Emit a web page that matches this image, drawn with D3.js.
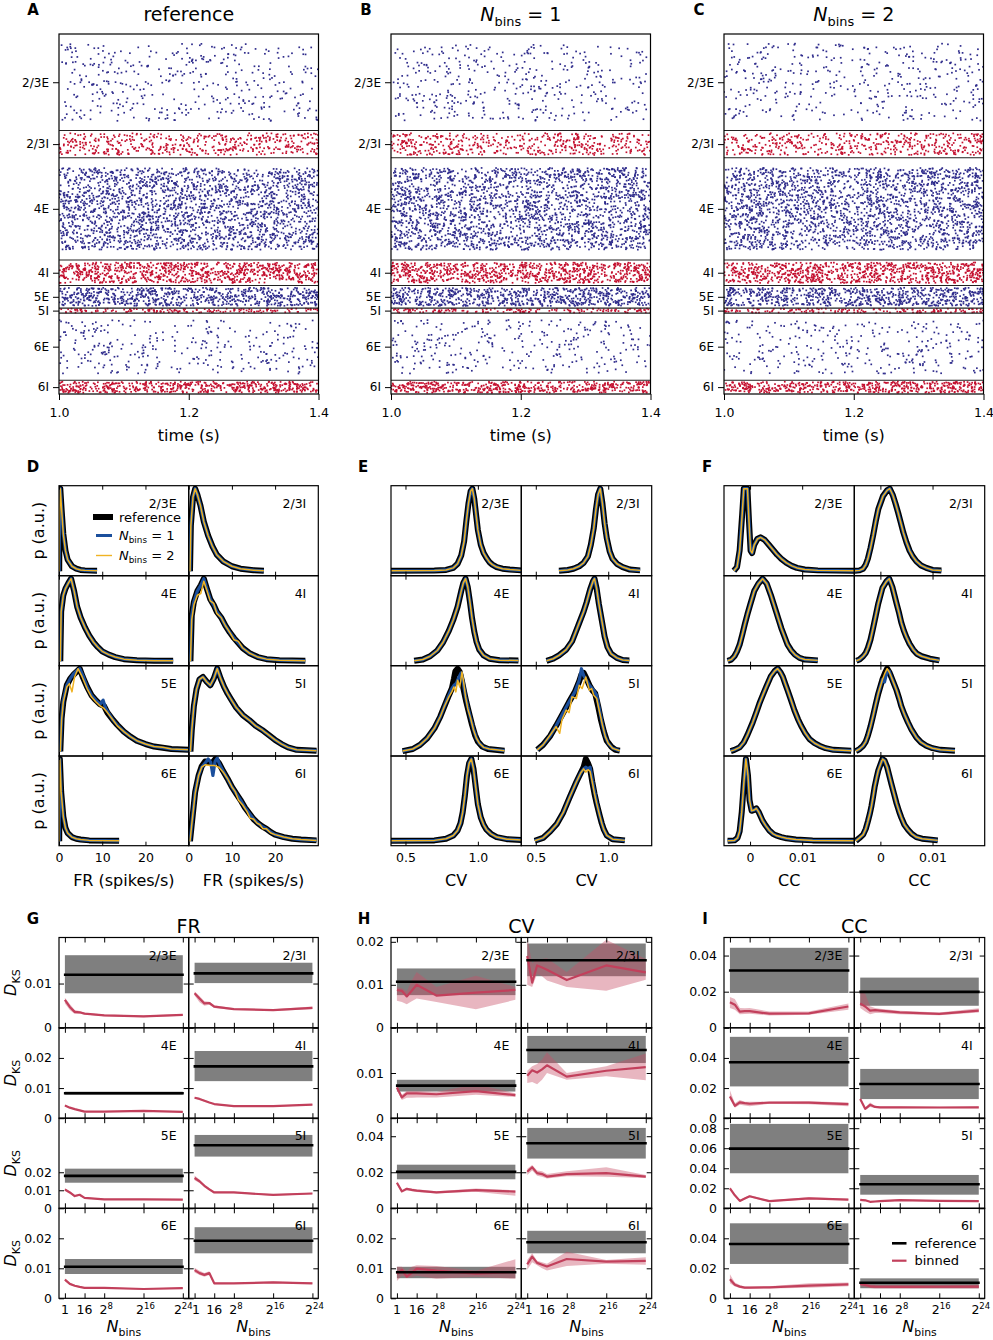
<!DOCTYPE html>
<html>
<head>
<meta charset="utf-8">
<script src="https://cdn.jsdelivr.net/npm/d3@7"></script>
<style>
  body { margin: 0; background: #fff; }
</style>
</head>
<body>
<div id="fig"></div>
<script>
// ---------- data ----------
const populations = ['2/3E', '2/3I', '4E', '4I', '5E', '5I', '6E', '6I'];
const popSizes = [20683, 5834, 21915, 5479, 4850, 1065, 14395, 2948];
// approximate number of spike dots visible per population in one raster panel
const spikeCounts = [400, 470, 2200, 830, 700, 150, 290, 500];
const timeTicks = [1.0, 1.2, 1.4];

// firing-rate histograms (x = spikes/s, y = p normalised to peak)
const frRef = [
  [[0.05,0],[0.1,0.6],[0.3,1],[0.6,0.75],[1,0.45],[1.5,0.25],[2,0.14],[3,0.06],[4,0.03],[5,0.015],[6,0.01],[8.8,0.005]],
  [[0.3,0],[0.5,0.55],[1,0.9],[1.5,1],[2,0.93],[2.7,0.8],[3.5,0.6],[4.5,0.43],[5.5,0.3],[6.5,0.2],[8,0.12],[10,0.06],[12,0.03],[15,0.012],[17.4,0.005]],
  [[0.3,0],[0.5,0.6],[1,0.8],[1.5,0.88],[2.2,0.95],[2.8,1],[3.5,0.85],[4.2,0.66],[5,0.53],[6,0.41],[7,0.31],[8,0.23],[9,0.17],[10,0.12],[11.5,0.08],[13,0.05],[15,0.025],[18,0.012],[22,0.006],[26.4,0.004]],
  [[0.4,0],[0.7,0.55],[1.2,0.72],[2,0.85],[2.8,0.92],[3.5,1],[4.2,0.88],[5,0.75],[5.8,0.68],[6.5,0.6],[7.5,0.53],[8.5,0.43],[9.5,0.35],[10.5,0.28],[11.5,0.22],[12.5,0.16],[14,0.1],[16,0.05],[18,0.025],[21,0.012],[27,0.005]],
  [[0.3,0],[0.6,0.4],[1,0.6],[1.8,0.8],[2.6,0.88],[3.4,0.93],[4.2,0.97],[4.8,1],[5.5,0.9],[6.5,0.78],[7.5,0.68],[8.5,0.62],[9.5,0.57],[10.4,0.55],[11.2,0.47],[12.5,0.38],[13.5,0.32],[15,0.24],[16.5,0.18],[18,0.13],[20,0.09],[22,0.06],[24,0.045],[26,0.03],[30,0.02]],
  [[0.4,0],[0.7,0.25],[1.2,0.55],[1.8,0.75],[2.5,0.87],[3.3,0.9],[4.2,0.84],[5,0.8],[5.8,0.88],[6.6,1],[7.4,0.88],[8.2,0.78],[9,0.7],[9.8,0.63],[11,0.53],[12.5,0.44],[14,0.38],[15.5,0.31],[17,0.26],[18.5,0.2],[20,0.14],[21.5,0.09],[23,0.05],[25,0.02],[29.6,0.01]],
  [[0.05,0],[0.1,0.7],[0.2,1],[0.5,0.6],[1,0.3],[1.5,0.16],[2,0.1],[3,0.05],[4,0.03],[5,0.02],[7,0.01],[13.9,0.005]],
  [[0.3,0],[0.7,0.2],[1.5,0.6],[2.3,0.8],[3,0.91],[3.8,0.97],[4.6,0.96],[5.4,0.95],[6.2,1],[7,0.95],[8,0.85],[9,0.76],[10,0.66],[11,0.58],[12,0.5],[13,0.41],[14,0.34],[15,0.27],[16,0.22],[17,0.18],[18,0.15],[19,0.11],[20,0.08],[22,0.05],[24,0.03],[26,0.02],[29.6,0.01]]
];
const fr4INb2 = [[0.4,0],[0.7,0.5],[1.2,0.68],[2,0.8],[2.8,0.82],[3.5,0.97],[4.2,0.86],[5,0.73],[5.8,0.7],[6.5,0.58],[7.5,0.53],[8.5,0.43],[9.5,0.35],[10.5,0.26],[11.5,0.24],[12.5,0.16],[14,0.1],[16,0.05],[18,0.025],[21,0.012],[27,0.005]];
const fr5ENb1 = [[0.3,0],[0.6,0.4],[1,0.62],[1.8,0.8],[2.6,0.88],[3.4,0.94],[4.2,0.98],[4.8,1],[5.5,0.92],[6.5,0.78],[7.5,0.68],[8.5,0.62],[9.5,0.57],[10.2,0.62],[10.8,0.52],[11.5,0.46],[12.5,0.38],[13.5,0.32],[15,0.24],[16.5,0.18],[18,0.13],[20,0.09],[22,0.06],[24,0.045],[26,0.03],[30,0.02]];
const fr5ENb2 = [[0.3,0],[0.6,0.38],[1,0.6],[1.8,0.78],[2.4,0.82],[3,0.72],[3.6,0.9],[4.4,1],[5.2,0.92],[6.5,0.76],[7.5,0.66],[8.5,0.6],[9.5,0.55],[10.4,0.52],[11.2,0.47],[12.5,0.38],[13.5,0.31],[15,0.24],[16.5,0.18],[18,0.13],[20,0.09],[22,0.06],[24,0.05],[26,0.03],[30,0.02]];
const fr6INb1 = [[0.3,0],[0.7,0.2],[1.5,0.6],[2.3,0.8],[3,0.9],[3.8,0.95],[4.5,1],[5.1,0.96],[5.6,0.8],[6.1,0.97],[6.6,1.01],[7.2,0.93],[8,0.85],[9,0.76],[10,0.66],[11,0.58],[12,0.5],[13,0.41],[14,0.34],[15,0.27],[16,0.22],[17,0.18],[18,0.15],[19,0.11],[20,0.08],[22,0.05],[24,0.03],[26,0.02],[29.6,0.01]];
const fr6INb2 = [[0.3,0],[0.7,0.2],[1.5,0.58],[2.3,0.8],[3,0.9],[3.8,0.93],[5,0.92],[6,0.92],[7,0.9],[8,0.84],[9,0.76],[10,0.66],[10.8,0.6],[11.5,0.5],[12.5,0.44],[13.5,0.36],[14.2,0.28],[15,0.27],[15.8,0.22],[16.5,0.2],[17.2,0.15],[18,0.15],[19,0.1],[20,0.08],[22,0.05],[24,0.03],[26,0.02],[29.6,0.01]];
const frNb1 = [frRef[0], frRef[1], frRef[2], frRef[3], fr5ENb1, frRef[5], frRef[6], fr6INb1];
const frNb2 = [frRef[0], frRef[1], frRef[2], fr4INb2, fr5ENb2, frRef[5], frRef[6], fr6INb2];

// CV histograms
const cvRef = [
  [[0.4,0.005],[0.7,0.008],[0.78,0.015],[0.83,0.04],[0.86,0.09],[0.885,0.19],[0.905,0.36],[0.92,0.6],[0.935,0.82],[0.95,0.97],[0.962,1],[0.975,0.88],[0.99,0.65],[1.0,0.5],[1.02,0.32],[1.04,0.22],[1.06,0.16],[1.08,0.11],[1.1,0.08],[1.13,0.05],[1.17,0.03],[1.22,0.02],[1.3,0.01]],
  [[0.66,0.005],[0.72,0.015],[0.76,0.03],[0.8,0.06],[0.83,0.1],[0.86,0.18],[0.88,0.32],[0.9,0.52],[0.915,0.75],[0.93,0.93],[0.945,1],[0.96,0.82],[0.975,0.58],[0.99,0.4],[1.01,0.24],[1.03,0.15],[1.06,0.09],[1.1,0.05],[1.15,0.02],[1.22,0.01]],
  [[0.56,0.005],[0.62,0.02],[0.67,0.06],[0.72,0.13],[0.76,0.23],[0.8,0.37],[0.83,0.5],[0.86,0.66],[0.885,0.85],[0.9,0.95],[0.915,1],[0.93,0.9],[0.945,0.72],[0.96,0.52],[0.975,0.36],[0.99,0.24],[1.01,0.14],[1.04,0.07],[1.08,0.03],[1.15,0.012],[1.28,0.008]],
  [[0.574,0.005],[0.62,0.03],[0.66,0.07],[0.71,0.14],[0.75,0.24],[0.79,0.42],[0.83,0.6],[0.85,0.71],[0.875,0.87],[0.895,0.97],[0.905,1],[0.92,0.88],[0.935,0.7],[0.955,0.5],[0.975,0.3],[0.995,0.17],[1.02,0.09],[1.06,0.04],[1.1,0.015],[1.145,0.008]],
  [[0.48,0.005],[0.55,0.03],[0.6,0.08],[0.65,0.16],[0.7,0.28],[0.74,0.42],[0.77,0.55],[0.8,0.68],[0.82,0.76],[0.835,0.88],[0.845,0.97],[0.86,1],[0.875,0.96],[0.89,0.85],[0.905,0.72],[0.92,0.6],[0.94,0.46],[0.96,0.32],[0.98,0.2],[1.0,0.12],[1.03,0.06],[1.07,0.03],[1.184,0.01]],
  [[0.51,0.02],[0.55,0.08],[0.6,0.19],[0.64,0.31],[0.69,0.47],[0.73,0.6],[0.77,0.72],[0.8,0.85],[0.815,0.93],[0.83,0.95],[0.85,0.88],[0.87,0.8],[0.89,0.74],[0.91,0.7],[0.93,0.55],[0.95,0.38],[0.97,0.24],[0.99,0.13],[1.02,0.06],[1.05,0.02],[1.08,0.01]],
  [[0.4,0.005],[0.7,0.01],[0.78,0.03],[0.83,0.07],[0.86,0.13],[0.88,0.22],[0.895,0.35],[0.91,0.55],[0.925,0.8],[0.94,0.95],[0.955,1],[0.97,0.88],[0.985,0.66],[1.0,0.45],[1.02,0.29],[1.04,0.2],[1.06,0.14],[1.09,0.09],[1.13,0.05],[1.2,0.025],[1.3,0.015]],
  [[0.493,0.005],[0.55,0.04],[0.6,0.12],[0.645,0.21],[0.69,0.35],[0.735,0.54],[0.78,0.72],[0.81,0.83],[0.83,0.9],[0.845,1],[0.86,0.95],[0.875,0.88],[0.89,0.72],[0.905,0.58],[0.92,0.46],[0.94,0.32],[0.955,0.22],[0.97,0.14],[0.99,0.07],[1.03,0.025],[1.115,0.01]]
];
const cv5ENb1 = [[0.48,0.005],[0.55,0.03],[0.6,0.08],[0.65,0.16],[0.7,0.28],[0.74,0.42],[0.77,0.55],[0.8,0.68],[0.82,0.76],[0.835,0.8],[0.85,0.82],[0.87,0.9],[0.885,0.95],[0.9,0.82],[0.915,0.66],[0.93,0.54],[0.95,0.4],[0.97,0.27],[0.99,0.16],[1.01,0.1],[1.04,0.05],[1.08,0.03],[1.184,0.01]];
const cv5ENb2 = [[0.48,0.005],[0.55,0.03],[0.6,0.08],[0.65,0.16],[0.7,0.28],[0.74,0.42],[0.77,0.55],[0.8,0.66],[0.82,0.72],[0.835,0.78],[0.848,0.72],[0.86,0.86],[0.875,0.78],[0.89,0.96],[0.9,0.86],[0.915,0.66],[0.93,0.52],[0.95,0.4],[0.97,0.26],[0.99,0.16],[1.01,0.1],[1.04,0.05],[1.08,0.03],[1.184,0.01]];
const cv5INb1 = [[0.51,0.02],[0.55,0.08],[0.6,0.19],[0.64,0.31],[0.69,0.47],[0.73,0.6],[0.77,0.72],[0.8,0.86],[0.815,1],[0.83,0.92],[0.85,0.86],[0.87,0.8],[0.9,0.74],[0.92,0.68],[0.94,0.5],[0.96,0.32],[0.98,0.18],[1.0,0.1],[1.03,0.04],[1.06,0.02],[1.08,0.01]];
const cv5INb2 = [[0.51,0.02],[0.55,0.08],[0.6,0.2],[0.64,0.3],[0.665,0.22],[0.68,0.38],[0.71,0.5],[0.73,0.47],[0.75,0.66],[0.78,0.64],[0.8,0.8],[0.82,0.76],[0.845,0.9],[0.87,0.74],[0.885,0.76],[0.9,0.68],[0.92,0.64],[0.94,0.48],[0.96,0.32],[0.98,0.18],[1.0,0.1],[1.03,0.04],[1.06,0.02],[1.08,0.01]];
const cv6INb1 = [[0.493,0.005],[0.55,0.04],[0.6,0.12],[0.645,0.21],[0.69,0.35],[0.735,0.54],[0.78,0.72],[0.81,0.83],[0.83,0.88],[0.845,0.9],[0.86,0.88],[0.875,0.9],[0.89,0.74],[0.905,0.6],[0.92,0.47],[0.94,0.32],[0.955,0.22],[0.97,0.14],[0.99,0.07],[1.03,0.025],[1.115,0.01]];
const cv6INb2 = [[0.493,0.005],[0.55,0.04],[0.6,0.12],[0.645,0.21],[0.69,0.35],[0.735,0.54],[0.78,0.72],[0.81,0.83],[0.83,0.88],[0.845,0.84],[0.86,0.87],[0.875,0.85],[0.89,0.72],[0.905,0.58],[0.92,0.46],[0.94,0.32],[0.955,0.22],[0.97,0.14],[0.99,0.07],[1.03,0.025],[1.115,0.01]];
const cvNb1 = [cvRef[0], cvRef[1], cvRef[2], cvRef[3], cv5ENb1, cv5INb1, cvRef[6], cv6INb1];
const cvNb2 = [cvRef[0], cvRef[1], cvRef[2], cvRef[3], cv5ENb2, cv5INb2, cvRef[6], cv6INb2];

// CC histograms
const ccRef = [
  [[-0.0031,0.005],[-0.0025,0.05],[-0.002,0.25],[-0.0015,0.7],[-0.0012,1],[-0.0005,1],[-0.0002,0.6],[0.0001,0.25],[0.0004,0.22],[0.0008,0.32],[0.0014,0.39],[0.002,0.41],[0.0028,0.38],[0.0036,0.32],[0.0044,0.26],[0.0052,0.2],[0.006,0.15],[0.007,0.1],[0.008,0.065],[0.009,0.04],[0.0105,0.02],[0.013,0.01],[0.02,0.005]],
  [[-0.0049,0.005],[-0.004,0.01],[-0.0033,0.03],[-0.0028,0.08],[-0.0024,0.15],[-0.0019,0.28],[-0.0014,0.43],[-0.0009,0.6],[-0.0004,0.75],[0.0005,0.91],[0.0013,0.98],[0.0018,1],[0.0024,0.92],[0.0029,0.82],[0.0034,0.71],[0.0039,0.59],[0.0044,0.47],[0.005,0.35],[0.0056,0.25],[0.0062,0.18],[0.0069,0.12],[0.0078,0.07],[0.0088,0.04],[0.01,0.015],[0.0117,0.008]],
  [[-0.0043,0.005],[-0.0036,0.02],[-0.003,0.06],[-0.0025,0.12],[-0.002,0.2],[-0.0015,0.32],[-0.001,0.45],[-0.0005,0.57],[0,0.68],[0.0008,0.85],[0.0016,0.94],[0.0024,1],[0.0032,0.94],[0.004,0.8],[0.0045,0.7],[0.005,0.6],[0.0055,0.5],[0.006,0.4],[0.0066,0.3],[0.0072,0.2],[0.0079,0.13],[0.0086,0.08],[0.0095,0.04],[0.0105,0.02],[0.013,0.01]],
  [[-0.0046,0.005],[-0.004,0.02],[-0.0033,0.06],[-0.0028,0.1],[-0.0024,0.16],[-0.0019,0.26],[-0.0014,0.4],[-0.0009,0.55],[-0.0004,0.7],[0.0004,0.89],[0.0012,0.97],[0.0017,1],[0.0023,0.9],[0.0031,0.7],[0.0036,0.58],[0.004,0.47],[0.0045,0.37],[0.005,0.29],[0.0056,0.21],[0.0063,0.14],[0.007,0.09],[0.0079,0.06],[0.0095,0.03],[0.0113,0.01]],
  [[-0.0037,0.005],[-0.003,0.02],[-0.002,0.05],[-0.0012,0.11],[-0.0005,0.2],[0.0005,0.35],[0.0012,0.47],[0.0018,0.58],[0.0025,0.69],[0.0031,0.78],[0.004,0.91],[0.0047,0.97],[0.0053,1],[0.0058,0.96],[0.0063,0.9],[0.0068,0.81],[0.0072,0.74],[0.0078,0.63],[0.0085,0.5],[0.0092,0.39],[0.0098,0.31],[0.0106,0.22],[0.0114,0.15],[0.0124,0.1],[0.0133,0.07],[0.0145,0.04],[0.016,0.02],[0.0194,0.01]],
  [[-0.0047,0.005],[-0.004,0.03],[-0.0033,0.07],[-0.0028,0.12],[-0.0024,0.19],[-0.0019,0.3],[-0.0014,0.43],[-0.0009,0.57],[-0.0004,0.7],[0.0004,0.87],[0.0009,0.95],[0.0013,1],[0.0017,0.96],[0.0021,0.9],[0.0026,0.82],[0.0031,0.74],[0.0036,0.64],[0.004,0.55],[0.0046,0.45],[0.0053,0.35],[0.006,0.26],[0.0069,0.17],[0.0078,0.11],[0.0088,0.07],[0.01,0.04],[0.0115,0.02],[0.0143,0.01]],
  [[-0.0043,0.005],[-0.003,0.01],[-0.0024,0.04],[-0.002,0.12],[-0.0016,0.35],[-0.0012,0.7],[-0.0008,1],[-0.0004,0.8],[-0.0001,0.5],[0.0003,0.37],[0.0008,0.38],[0.0012,0.4],[0.0017,0.35],[0.0024,0.25],[0.003,0.19],[0.0037,0.13],[0.0044,0.09],[0.005,0.07],[0.006,0.05],[0.007,0.035],[0.0088,0.02],[0.012,0.01],[0.02,0.005]],
  [[-0.0047,0.005],[-0.004,0.04],[-0.0033,0.08],[-0.0028,0.15],[-0.0024,0.24],[-0.002,0.34],[-0.0017,0.43],[-0.0014,0.54],[-0.0011,0.66],[-0.0007,0.78],[-0.0004,0.86],[0,0.93],[0.0004,1],[0.0008,0.98],[0.0013,0.9],[0.0017,0.8],[0.0021,0.7],[0.0026,0.58],[0.0031,0.46],[0.0036,0.36],[0.004,0.29],[0.0046,0.2],[0.0053,0.14],[0.006,0.09],[0.0069,0.05],[0.008,0.03],[0.011,0.01]]
];
const cc5INb1 = [[-0.0047,0.005],[-0.004,0.03],[-0.0033,0.07],[-0.0028,0.12],[-0.0024,0.19],[-0.0019,0.3],[-0.0014,0.43],[-0.0009,0.57],[-0.0004,0.7],[0.0004,0.87],[0.0008,0.84],[0.0013,0.98],[0.0017,0.97],[0.0021,0.9],[0.0026,0.82],[0.0031,0.74],[0.0036,0.64],[0.004,0.55],[0.0046,0.45],[0.0053,0.35],[0.006,0.26],[0.0069,0.17],[0.0078,0.11],[0.0088,0.07],[0.01,0.04],[0.0115,0.02],[0.0143,0.01]];
const ccNb1 = [ccRef[0], ccRef[1], ccRef[2], ccRef[3], ccRef[4], cc5INb1, ccRef[6], ccRef[7]];
const ccNb2 = ccRef;

// D_KS vs N_bins (x = log2 N_bins)
const nbinsLog2 = [0, 1, 2, 3, 4, 8, 16, 24];
const nbinsTicks = [0, 4, 8, 16, 24];
const nbinsTickLabels = [['1', ''], ['16', ''], ['2', '8'], ['2', '16'], ['2', '24']];

const frRefMean = [0.0120, 0.0123, 0.0083, 0.0172, 0.0180, 0.0350, 0.0105, 0.0192];
const frRefLo   = [0.0078, 0.0101, 0.0078, 0.0123, 0.0142, 0.0287, 0.0081, 0.0150];
const frRefHi   = [0.0164, 0.0147, 0.0088, 0.0223, 0.0220, 0.0407, 0.0131, 0.0237];
const frBinMean = [
  [0.0063,0.0047,0.0036,0.0035,0.0032,0.0028,0.0026,0.0029],
  [0.0078,0.0066,0.0055,0.0056,0.0048,0.0042,0.0040,0.0045],
  [0.0042,0.0035,0.0030,0.0026,0.0022,0.0022,0.0024,0.0021],
  [0.0068,0.0064,0.0058,0.0052,0.0047,0.0040,0.0040,0.0045],
  [0.0104,0.0088,0.0068,0.0075,0.0058,0.0050,0.0050,0.0048],
  [0.0168,0.0150,0.0125,0.0105,0.0088,0.0088,0.0074,0.0082],
  [0.0062,0.0048,0.0042,0.0038,0.0035,0.0035,0.0031,0.0034],
  [0.0094,0.0084,0.0078,0.0084,0.0050,0.0050,0.0053,0.0050]
];
const frBinLo = [
  [0.0055,0.0040,0.0031,0.0032,0.0030,0.0026,0.0024,0.0027],
  [0.0073,0.0058,0.0050,0.0052,0.0045,0.0040,0.0038,0.0042],
  [0.0039,0.0033,0.0028,0.0024,0.0021,0.0021,0.0023,0.0020],
  [0.0065,0.0061,0.0055,0.0050,0.0045,0.0038,0.0038,0.0043],
  [0.0098,0.0082,0.0062,0.0070,0.0054,0.0047,0.0047,0.0045],
  [0.0155,0.0140,0.0117,0.0099,0.0083,0.0084,0.0070,0.0078],
  [0.0058,0.0045,0.0039,0.0036,0.0033,0.0033,0.0029,0.0032],
  [0.0086,0.0078,0.0072,0.0078,0.0047,0.0048,0.0050,0.0048]
];
const frBinHi = [
  [0.0068,0.0054,0.0040,0.0038,0.0034,0.0030,0.0028,0.0031],
  [0.0082,0.0072,0.0060,0.0059,0.0051,0.0044,0.0042,0.0048],
  [0.0045,0.0037,0.0032,0.0028,0.0024,0.0024,0.0025,0.0023],
  [0.0071,0.0067,0.0061,0.0055,0.0049,0.0042,0.0042,0.0047],
  [0.0110,0.0094,0.0074,0.0080,0.0062,0.0053,0.0053,0.0051],
  [0.0182,0.0160,0.0132,0.0112,0.0093,0.0092,0.0078,0.0086],
  [0.0066,0.0051,0.0045,0.0040,0.0037,0.0037,0.0033,0.0036],
  [0.0102,0.0092,0.0084,0.0090,0.0053,0.0052,0.0056,0.0053]
];

const cvRefMean = [0.0107, 0.0157, 0.0072, 0.0151, 0.0202, 0.0361, 0.0087, 0.0187];
const cvRefLo   = [0.0076, 0.0120, 0.0059, 0.0122, 0.0161, 0.0276, 0.0067, 0.0150];
const cvRefHi   = [0.0138, 0.0196, 0.0085, 0.0182, 0.0242, 0.0446, 0.0105, 0.0225];
const cvBinMean = [
  [0.0088,0.0086,0.0073,0.0086,0.0100,0.0075,0.0082,0.0088],
  [0.0167,0.0105,0.0145,0.0140,0.0135,0.0111,0.0145,0.0129],
  [0.0068,0.0046,0.0055,0.0055,0.0055,0.0053,0.0060,0.0051],
  [0.0094,0.0106,0.0101,0.0108,0.0117,0.0092,0.0105,0.0113],
  [0.0142,0.0094,0.0108,0.0102,0.0098,0.0088,0.0101,0.0093],
  [0.0203,0.0228,0.0195,0.0190,0.0176,0.0190,0.0195,0.0176],
  [0.0081,0.0095,0.0072,0.0085,0.0099,0.0092,0.0082,0.0088],
  [0.0113,0.0139,0.0118,0.0112,0.0106,0.0131,0.0122,0.0125]
];
const cvBinLo = [
  [0.0063,0.0060,0.0055,0.0062,0.0068,0.0060,0.0043,0.0065],
  [0.0100,0.0095,0.0125,0.0120,0.0110,0.0095,0.0086,0.0112],
  [0.0062,0.0040,0.0045,0.0045,0.0046,0.0046,0.0052,0.0047],
  [0.0078,0.0080,0.0075,0.0085,0.0100,0.0085,0.0093,0.0084],
  [0.0132,0.0088,0.0100,0.0095,0.0090,0.0082,0.0092,0.0070],
  [0.0185,0.0210,0.0180,0.0175,0.0165,0.0178,0.0175,0.0168],
  [0.0058,0.0075,0.0068,0.0070,0.0075,0.0065,0.0072,0.0065],
  [0.0095,0.0120,0.0110,0.0100,0.0093,0.0108,0.0115,0.0112]
];
const cvBinHi = [
  [0.0095,0.0092,0.0085,0.0110,0.0130,0.0095,0.0121,0.0095],
  [0.0210,0.0150,0.0160,0.0160,0.0162,0.0130,0.0205,0.0160],
  [0.0072,0.0052,0.0060,0.0060,0.0060,0.0058,0.0075,0.0055],
  [0.0105,0.0115,0.0120,0.0130,0.0146,0.0100,0.0115,0.0143],
  [0.0150,0.0100,0.0114,0.0110,0.0106,0.0095,0.0110,0.0100],
  [0.0220,0.0240,0.0210,0.0205,0.0190,0.0205,0.0228,0.0185],
  [0.0105,0.0105,0.0090,0.0105,0.0110,0.0108,0.0092,0.0130],
  [0.0128,0.0150,0.0125,0.0120,0.0115,0.0155,0.0128,0.0137]
];

const ccRefMean = [0.0317, 0.0199, 0.0371, 0.0227, 0.0596, 0.0240, 0.0362, 0.0104];
const ccRefLo   = [0.0193, 0.0122, 0.0211, 0.0127, 0.0350, 0.0136, 0.0229, 0.0067];
const ccRefHi   = [0.0443, 0.0278, 0.0540, 0.0327, 0.0843, 0.0333, 0.0500, 0.0133];
const ccBinMean = [
  [0.0142,0.0128,0.0090,0.0092,0.0092,0.0078,0.0080,0.0118],
  [0.0135,0.0118,0.0095,0.0098,0.0095,0.0085,0.0077,0.0095],
  [0.0144,0.0082,0.0105,0.0100,0.0096,0.0104,0.0104,0.0093],
  [0.0127,0.0062,0.0089,0.0075,0.0072,0.0072,0.0071,0.0072],
  [0.0200,0.0130,0.0074,0.0097,0.0120,0.0071,0.0100,0.0087],
  [0.0084,0.0080,0.0065,0.0068,0.0071,0.0081,0.0074,0.0071],
  [0.0127,0.0090,0.0078,0.0071,0.0071,0.0073,0.0084,0.0093],
  [0.0096,0.0089,0.0080,0.0078,0.0077,0.0076,0.0077,0.0078]
];
const ccBinLo = [
  [0.0110,0.0100,0.0075,0.0077,0.0078,0.0068,0.0072,0.0100],
  [0.0110,0.0090,0.0075,0.0082,0.0082,0.0075,0.0070,0.0085],
  [0.0125,0.0070,0.0090,0.0085,0.0080,0.0096,0.0092,0.0080],
  [0.0115,0.0055,0.0075,0.0068,0.0066,0.0066,0.0066,0.0066],
  [0.0190,0.0120,0.0066,0.0088,0.0110,0.0064,0.0090,0.0079],
  [0.0076,0.0072,0.0058,0.0061,0.0064,0.0074,0.0067,0.0064],
  [0.0100,0.0078,0.0068,0.0064,0.0064,0.0066,0.0070,0.0080],
  [0.0080,0.0075,0.0068,0.0066,0.0065,0.0065,0.0066,0.0066]
];
const ccBinHi = [
  [0.0170,0.0160,0.0110,0.0108,0.0110,0.0090,0.0090,0.0135],
  [0.0195,0.0190,0.0120,0.0110,0.0105,0.0095,0.0085,0.0108],
  [0.0185,0.0100,0.0120,0.0110,0.0110,0.0110,0.0112,0.0105],
  [0.0140,0.0070,0.0105,0.0082,0.0078,0.0078,0.0076,0.0077],
  [0.0212,0.0140,0.0084,0.0107,0.0130,0.0080,0.0110,0.0096],
  [0.0092,0.0088,0.0072,0.0075,0.0078,0.0088,0.0081,0.0078],
  [0.0160,0.0105,0.0088,0.0078,0.0078,0.0080,0.0100,0.0105],
  [0.0110,0.0103,0.0092,0.0090,0.0089,0.0088,0.0089,0.0090]
];

// ---------- drawing ----------
const FONT = '"DejaVu Sans", sans-serif';
const colE = '#2f2c8c', colI = '#c4102f';
const colBlue = '#1b4f9c', colOrange = '#f0b323';
const colRed = '#c2405c', colShade = 'rgba(200,80,105,0.42)';

const svg = d3.select('#fig').append('svg')
  .attr('width', 993).attr('height', 1340)
  .style('font-family', FONT);

let clipId = 0;
function clipRect(x, y, w, h) {
  const id = 'clip' + (clipId++);
  svg.append('clipPath').attr('id', id)
    .append('rect').attr('x', x).attr('y', y).attr('width', w).attr('height', h);
  return 'url(#' + id + ')';
}

function richText(parent, x, y, parts, anchor, rotate) {
  const t = parent.append('text').attr('x', x).attr('y', y)
    .attr('text-anchor', anchor || 'middle').attr('fill', '#000');
  if (rotate) t.attr('transform', `rotate(-90,${x},${y})`);
  parts.forEach(p => {
    t.append('tspan').attr('font-size', p.size).attr('dy', p.dy || 0)
      .attr('font-style', p.italic ? 'italic' : null).text(p.t);
  });
  return t;
}
function nbinsParts(size, rest) {
  const parts = [{t: 'N', size: size, italic: true}, {t: 'bins', size: size * 0.68, dy: size * 0.25}];
  if (rest) parts.push({t: rest, size: size, dy: -size * 0.25});
  return parts;
}

function styleAxis(g, size) {
  g.select('.domain').remove();
  g.selectAll('.tick line').attr('stroke', '#000').attr('stroke-width', 1);
  g.selectAll('.tick text').attr('font-size', size).attr('font-family', FONT).attr('fill', '#000');
}

function panelLetter(x, y, txt) {
  svg.append('text').attr('x', x).attr('y', y).attr('text-anchor', 'middle')
    .attr('font-size', 15).attr('font-weight', 'bold').text(txt);
}

// ---- A, B, C raster plots ----
const rTop = 34, rBot = 394, rW = 259.5;
const total = d3.sum(popSizes);
const popStarts = popSizes.map((s, i) => d3.sum(popSizes.slice(0, i)));
const rasterPanels = [
  {letter: 'A', lx: 33, x0: 59, seed: 0.137, title: [{t: 'reference', size: 19}]},
  {letter: 'B', lx: 366, x0: 391, seed: 0.521, title: nbinsParts(19, ' = 1')},
  {letter: 'C', lx: 699, x0: 724, seed: 0.873, title: nbinsParts(19, ' = 2')}
];
rasterPanels.forEach(p => {
  const x = d3.scaleLinear().domain([1.0, 1.4]).range([p.x0, p.x0 + rW]);
  const y = d3.scaleLinear().domain([0, total]).range([rTop, rBot]);
  const rng = d3.randomLcg(p.seed);
  const g = svg.append('g');
  const dots = g.append('g').attr('clip-path', clipRect(p.x0, rTop, rW, rBot - rTop));
  populations.forEach((pop, i) => {
    const spikes = d3.range(spikeCounts[i]).map(() =>
      [1.0 + 0.4 * rng(), popStarts[i] + (0.1 + 0.8 * rng()) * popSizes[i]]);
    dots.selectAll(null).data(spikes).join('rect')
      .attr('x', d => x(d[0]) - 0.85).attr('y', d => y(d[1]) - 0.85)
      .attr('width', 1.7).attr('height', 1.7)
      .attr('fill', pop.endsWith('E') ? colE : colI);
  });
  popStarts.slice(1).forEach(s => {
    g.append('line').attr('x1', p.x0).attr('x2', p.x0 + rW)
      .attr('y1', y(s)).attr('y2', y(s)).attr('stroke', '#222').attr('stroke-width', 1.1);
  });
  g.append('rect').attr('x', p.x0).attr('y', rTop).attr('width', rW).attr('height', rBot - rTop)
    .attr('fill', 'none').attr('stroke', '#000').attr('stroke-width', 1.2);

  const centers = popSizes.map((s, i) => popStarts[i] + s / 2);
  const ya = g.append('g').attr('transform', `translate(${p.x0},0)`)
    .call(d3.axisLeft(y).tickValues(centers).tickFormat((d, i) => populations[i]).tickSize(6).tickPadding(4));
  styleAxis(ya, 12);
  const xa = g.append('g').attr('transform', `translate(0,${rBot})`)
    .call(d3.axisBottom(x).tickValues(timeTicks).tickFormat(d3.format('.1f')).tickSize(6).tickPadding(8));
  styleAxis(xa, 12.5);
  g.append('text').attr('x', p.x0 + rW / 2).attr('y', 441).attr('text-anchor', 'middle')
    .attr('font-size', 16).text('time (s)');
  richText(g, p.x0 + rW / 2, 21, p.title, 'middle');
  panelLetter(p.lx, 15, p.letter);
});

// ---- D, E, F histograms ----
const histRows = [485.7, 575.7, 665.7, 756, 845.7];
function histBlock(cfg) {
  const g = svg.append('g');
  const [cx0, cxm, cx1] = cfg.cols;
  populations.forEach((pop, k) => {
    const col = k % 2, row = Math.floor(k / 2);
    const left = col ? cxm : cx0, right = col ? cx1 : cxm;
    const top = histRows[row], bottom = histRows[row + 1];
    const x = d3.scaleLinear().domain(cfg.domain).range([left, right]);
    const y = d3.scaleLinear().domain([0, 1]).range([bottom - 4.5, top + 3]);
    const line = d3.line().x(d => x(d[0])).y(d => y(d[1]));
    const pg = g.append('g').attr('clip-path', clipRect(left, top, right - left, bottom - top));
    pg.append('path').attr('d', line(cfg.ref[k])).attr('fill', 'none')
      .attr('stroke', '#000').attr('stroke-width', 6).attr('stroke-linejoin', 'round');
    pg.append('path').attr('d', line(cfg.nb1[k])).attr('fill', 'none')
      .attr('stroke', colBlue).attr('stroke-width', 3.2).attr('stroke-linejoin', 'round');
    pg.append('path').attr('d', line(cfg.nb2[k])).attr('fill', 'none')
      .attr('stroke', colOrange).attr('stroke-width', 1.5).attr('stroke-linejoin', 'round');

    const bx = g.append('g').attr('transform', `translate(0,${bottom})`)
      .call(d3.axisBottom(x).tickValues(cfg.ticks).tickSize(-4).tickPadding(7)
        .tickFormat(row === 3 ? cfg.fmt : () => ''));
    styleAxis(bx, 12.5);
    const tx = g.append('g').attr('transform', `translate(0,${top})`)
      .call(d3.axisTop(x).tickValues(cfg.ticks).tickSize(-4).tickFormat(() => ''));
    styleAxis(tx, 12);
    g.append('rect').attr('x', left).attr('y', top).attr('width', right - left).attr('height', bottom - top)
      .attr('fill', 'none').attr('stroke', '#000').attr('stroke-width', 1.2);
    g.append('text').attr('x', right - 12).attr('y', top + 22).attr('text-anchor', 'end')
      .attr('font-size', 12.5).text(pop);
    if (row === 3) {
      g.append('text').attr('x', (left + right) / 2).attr('y', 886).attr('text-anchor', 'middle')
        .attr('font-size', 16).text(cfg.xlabel);
    }
    if (cfg.yLabel && col === 0) {
      g.append('text').attr('transform', `translate(44,${(top + bottom) / 2}) rotate(-90)`)
        .attr('text-anchor', 'middle').attr('font-size', 16).text('p (a.u.)');
    }
  });
  panelLetter(cfg.lx, 472, cfg.letter);
}
histBlock({letter: 'D', lx: 33, cols: [59, 188.7, 318.3], domain: [0, 30], ticks: [0, 10, 20],
  fmt: d3.format('d'), ref: frRef, nb1: frNb1, nb2: frNb2, xlabel: 'FR (spikes/s)', yLabel: true});
histBlock({letter: 'E', lx: 363, cols: [391, 521.3, 651.7], domain: [0.4, 1.3], ticks: [0.5, 1.0],
  fmt: d3.format('.1f'), ref: cvRef, nb1: cvNb1, nb2: cvNb2, xlabel: 'CV'});
histBlock({letter: 'F', lx: 707, cols: [724, 854.3, 984.7], domain: [-0.005, 0.02], ticks: [0, 0.01],
  fmt: d => d === 0 ? '0' : d3.format('.2f')(d), ref: ccRef, nb1: ccNb1, nb2: ccNb2, xlabel: 'CC'});

// legend in D
{
  const lg = svg.append('g');
  const items = [
    {y: 517, color: '#000', w: 6, x1: 93, x2: 113, parts: [{t: 'reference', size: 13}]},
    {y: 535.5, color: colBlue, w: 3, x1: 96, x2: 112, parts: nbinsParts(13, ' = 1')},
    {y: 555.5, color: colOrange, w: 1.4, x1: 96, x2: 112, parts: nbinsParts(13, ' = 2')}
  ];
  items.forEach(it => {
    lg.append('line').attr('x1', it.x1).attr('x2', it.x2).attr('y1', it.y).attr('y2', it.y)
      .attr('stroke', it.color).attr('stroke-width', it.w);
    richText(lg, 119, it.y + 4.5, it.parts, 'start');
  });
}

// ---- G, H, I: D_KS vs N_bins ----
const dksRows = [937.5, 1027.8, 1118.2, 1208.3, 1298.3];
function tickFmt(d) { return d === 0 ? '0' : d3.format('.2f')(d); }
function dksBlock(cfg) {
  const g = svg.append('g');
  const [cx0, cxm, cx1] = cfg.cols;
  populations.forEach((pop, k) => {
    const col = k % 2, row = Math.floor(k / 2);
    const left = col ? cxm : cx0, right = col ? cx1 : cxm;
    const top = dksRows[row], bottom = dksRows[row + 1];
    const x = d3.scaleLinear().domain([-1.2, 25.2]).range([left, right]);
    const y = d3.scaleLinear().domain([0, cfg.yMax[row]]).range([bottom, top]);
    const pg = g.append('g').attr('clip-path', clipRect(left, top, right - left, bottom - top));
    pg.append('rect').attr('x', x(0)).attr('width', x(24) - x(0))
      .attr('y', y(cfg.refHi[k])).attr('height', y(cfg.refLo[k]) - y(cfg.refHi[k]))
      .attr('fill', '#7f7f7f');
    const pts = nbinsLog2.map((n, i) => ({n, m: cfg.binMean[k][i], lo: cfg.binLo[k][i], hi: cfg.binHi[k][i]}));
    pg.append('path').datum(pts)
      .attr('d', d3.area().x(d => x(d.n)).y0(d => y(d.lo)).y1(d => y(d.hi)))
      .attr('fill', colShade);
    pg.append('path').datum(pts)
      .attr('d', d3.line().x(d => x(d.n)).y(d => y(d.m)))
      .attr('fill', 'none').attr('stroke', colRed).attr('stroke-width', 2.2).attr('stroke-linejoin', 'round');
    pg.append('line').attr('x1', x(0) - 1).attr('x2', x(24) + 1)
      .attr('y1', y(cfg.refMean[k])).attr('y2', y(cfg.refMean[k]))
      .attr('stroke', '#000').attr('stroke-width', 2.6);

    const bx = g.append('g').attr('transform', `translate(0,${bottom})`)
      .call(d3.axisBottom(x).tickValues(nbinsTicks).tickSize(-5).tickFormat(() => ''));
    styleAxis(bx, 12);
    const tx = g.append('g').attr('transform', `translate(0,${top})`)
      .call(d3.axisTop(x).tickValues(nbinsTicks).tickSize(-5).tickFormat(() => ''));
    styleAxis(tx, 12);
    const ly = g.append('g').attr('transform', `translate(${left},0)`)
      .call(d3.axisLeft(y).tickValues(cfg.yTicks[row]).tickSize(-5).tickPadding(7)
        .tickFormat(col === 0 ? tickFmt : () => ''));
    styleAxis(ly, 12.5);
    const ry = g.append('g').attr('transform', `translate(${right},0)`)
      .call(d3.axisRight(y).tickValues(cfg.yTicks[row]).tickSize(-5).tickFormat(() => ''));
    styleAxis(ry, 12);
    g.append('rect').attr('x', left).attr('y', top).attr('width', right - left).attr('height', bottom - top)
      .attr('fill', 'none').attr('stroke', '#000').attr('stroke-width', 1.2);
    g.append('text').attr('x', right - 12).attr('y', top + 22).attr('text-anchor', 'end')
      .attr('font-size', 12.5).text(pop);

    if (row === 3) {
      nbinsTicks.forEach((n, i) => {
        const [base, sup] = nbinsTickLabels[i];
        const parts = [{t: base, size: 12.5}];
        if (sup) parts.push({t: sup, size: 8.5, dy: -5});
        const shift = (sup ? 2 : 0) + (n === 24 && col === 0 ? -1.5 : 0) + (n === 0 && col === 1 ? 1.5 : 0);
        richText(g, x(n) + shift, 1314, parts, 'middle');
      });
      richText(g, (left + right) / 2, 1332, nbinsParts(16), 'middle');
    }
    if (cfg.yLabel && col === 0) {
      richText(g, 16, (top + bottom) / 2,
        [{t: 'D', size: 16, italic: true}, {t: 'KS', size: 11, dy: 4}], 'middle', true);
    }
  });
  svg.append('text').attr('x', (cx0 + cx1) / 2).attr('y', 933).attr('text-anchor', 'middle')
    .attr('font-size', 19).text(cfg.title);
  panelLetter(cfg.lx, 924, cfg.letter);
}
dksBlock({letter: 'G', lx: 33, title: 'FR', cols: [59, 188.7, 318.3], yLabel: true,
  yMax: [0.0204, 0.03, 0.05, 0.03],
  yTicks: [[0, 0.01], [0, 0.01, 0.02], [0, 0.01, 0.02], [0, 0.01, 0.02]],
  refMean: frRefMean, refLo: frRefLo, refHi: frRefHi, binMean: frBinMean, binLo: frBinLo, binHi: frBinHi});
dksBlock({letter: 'H', lx: 364, title: 'CV', cols: [391, 521.3, 651.7],
  yMax: [0.021, 0.02, 0.05, 0.03],
  yTicks: [[0, 0.01, 0.02], [0, 0.01], [0, 0.02, 0.04], [0, 0.01, 0.02]],
  refMean: cvRefMean, refLo: cvRefLo, refHi: cvRefHi, binMean: cvBinMean, binLo: cvBinLo, binHi: cvBinHi});
dksBlock({letter: 'I', lx: 705, title: 'CC', cols: [724, 854.3, 984.7],
  yMax: [0.05, 0.06, 0.09, 0.06],
  yTicks: [[0, 0.02, 0.04], [0, 0.02, 0.04], [0, 0.02, 0.04, 0.06, 0.08], [0, 0.02, 0.04]],
  refMean: ccRefMean, refLo: ccRefLo, refHi: ccRefHi, binMean: ccBinMean, binLo: ccBinLo, binHi: ccBinHi});

// legend in I
{
  const lg = svg.append('g');
  [{y: 1243.3, color: '#000', w: 2.6, label: 'reference'},
   {y: 1260.7, color: colRed, w: 2.2, label: 'binned'}].forEach(it => {
    lg.append('line').attr('x1', 892).attr('x2', 906.5).attr('y1', it.y).attr('y2', it.y)
      .attr('stroke', it.color).attr('stroke-width', it.w);
    lg.append('text').attr('x', 914.5).attr('y', it.y + 4.5).attr('font-size', 13).text(it.label);
  });
}
</script>
</body>
</html>
